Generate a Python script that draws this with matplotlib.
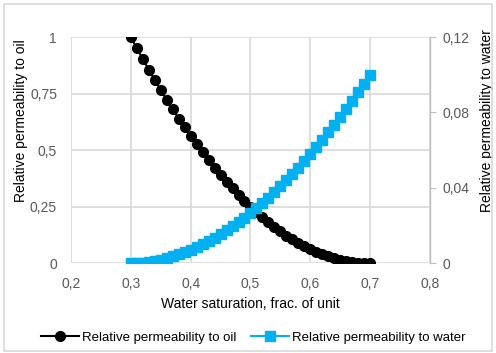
import matplotlib
matplotlib.use("Agg")
import matplotlib.pyplot as plt
from matplotlib.patches import Rectangle

plt.rcParams['font.family'] = ['Liberation Sans', 'DejaVu Sans']

# Water saturation, step 0.01 from 0.30 to 0.70
sw = [round(0.30 + 0.01 * i, 2) for i in range(41)]

kro = [1.000, 0.951, 0.903, 0.856, 0.810, 0.766, 0.723, 0.681, 0.640, 0.601,
       0.563, 0.526, 0.490, 0.456, 0.423, 0.391, 0.360, 0.331, 0.303, 0.276,
       0.250, 0.226, 0.203, 0.181, 0.160, 0.141, 0.123, 0.106, 0.090, 0.076,
       0.063, 0.051, 0.040, 0.031, 0.023, 0.016, 0.010, 0.006, 0.003, 0.001,
       0.000]

krw = [0.0000, 0.0001, 0.0003, 0.0007, 0.0013, 0.0019, 0.0027, 0.0037, 0.0047, 0.0059,
       0.0072, 0.0086, 0.0102, 0.0118, 0.0136, 0.0155, 0.0175, 0.0197, 0.0219, 0.0243,
       0.0268, 0.0294, 0.0321, 0.0349, 0.0379, 0.0409, 0.0441, 0.0474, 0.0508, 0.0543,
       0.0579, 0.0616, 0.0654, 0.0694, 0.0734, 0.0776, 0.0819, 0.0862, 0.0907, 0.0953,
       0.1000]

x_ticks = [0.2, 0.3, 0.4, 0.5, 0.6, 0.7, 0.8]
x_labels = ["0,2", "0,3", "0,4", "0,5", "0,6", "0,7", "0,8"]
oil_ticks = [0, 0.25, 0.5, 0.75, 1]
oil_labels = ["0", "0,25", "0,5", "0,75", "1"]
water_ticks = [0, 0.04, 0.08, 0.12]
water_labels = ["0", "0,04", "0,08", "0,12"]

txt = "#595959"
grid = "#d9d9d9"
blue = "#00b0f0"
fs = 10

fig = plt.figure(figsize=(4.96, 3.53), dpi=100)
fig.patches.append(Rectangle((0.008, 0.006), 0.984, 0.982, transform=fig.transFigure,
                             fill=False, edgecolor=grid, linewidth=1.2))

ax = fig.add_axes([0.143, 0.254, 0.724, 0.641])
ax2 = ax.twinx()

l1, = ax.plot(sw, kro, color="black", marker="o", markersize=7, linewidth=1.5,
              label="Relative permeability to oil", zorder=3)
l2, = ax2.plot(sw, krw, color=blue, marker="s", markersize=6.5, linewidth=1.5,
               label="Relative permeability to water", zorder=3)

ax.set_xlim(0.2, 0.8)
ax.set_ylim(0, 1)
ax2.set_ylim(0, 0.12)

ax.set_xticks(x_ticks)
ax.set_xticklabels(x_labels)
ax.set_yticks(oil_ticks)
ax.set_yticklabels(oil_labels)
ax2.set_yticks(water_ticks)
ax2.set_yticklabels(water_labels)

ax.grid(True, color=grid, linewidth=1.2)
ax.set_axisbelow(True)

for a in (ax, ax2):
    for s in ("top", "left", "right", "bottom"):
        a.spines[s].set_visible(False)
ax2.spines["right"].set_visible(True)
ax2.spines["right"].set_color("#bfbfbf")
ax2.spines["right"].set_linewidth(1.0)

ax.tick_params(axis="x", length=0, labelsize=fs, labelcolor=txt, pad=10)
ax.tick_params(axis="y", length=0, labelsize=fs, labelcolor=txt, pad=10)
ax2.tick_params(axis="y", length=4, color="#bfbfbf", direction="out",
                labelsize=fs, labelcolor=txt, pad=5)

ax.set_xlabel("Water saturation, frac. of unit", fontsize=fs, color="black", labelpad=4)
ax.set_ylabel("Relative permeability to oil", fontsize=fs, color="black")
ax2.set_ylabel("Relative permeability to water", fontsize=fs, color="black", rotation=90)
ax.yaxis.set_label_coords(-0.12, 0.63)
ax2.yaxis.set_label_coords(1.139, 0.63)

fig.legend(handles=[l1, l2], loc="center", bbox_to_anchor=(0.51, 0.043), ncol=2,
           frameon=False, fontsize=9.5, handlelength=2.9, columnspacing=1.1,
           handletextpad=0.2)

fig.savefig("out.png", dpi=100)
